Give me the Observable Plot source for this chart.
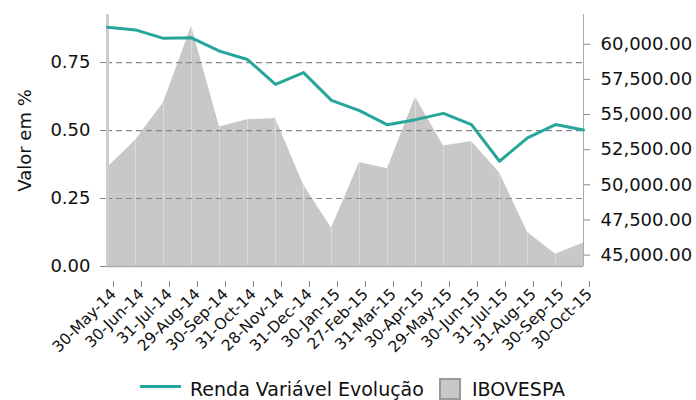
<!DOCTYPE html>
<html><head><meta charset="utf-8">
<script src="https://cdn.jsdelivr.net/npm/d3@7"></script>
<script src="https://cdn.jsdelivr.net/npm/@observablehq/plot@0.6"></script>
<style>
body{margin:0;background:#fff;font-family:"DejaVu Sans",sans-serif;}
#wrap{position:relative;width:696px;height:400px;overflow:hidden;background:#fff;}
#legend{position:absolute;left:140px;top:377.5px;height:22px;display:flex;align-items:center;font-size:19px;line-height:22px;color:#111;white-space:nowrap;}
.sw-line{display:inline-block;width:41px;height:3px;background:#26a69a;margin-right:9px;position:relative;top:-2px;}
.sw-box{display:inline-block;width:18px;height:18px;background:#c8c8c8;border:2px solid #999;margin:0 11px 0 15px;}
</style></head><body>
<div id="wrap"><div id="chart"></div>
<div id="legend"><span class="sw-line"></span><span>Renda Variável Evolução</span><span class="sw-box"></span><span>IBOVESPA</span></div>
</div>
<script>
const dates = ["30-May-14","30-Jun-14","31-Jul-14","29-Aug-14","30-Sep-14","31-Oct-14","28-Nov-14","31-Dec-14","30-Jan-15","27-Feb-15","31-Mar-15","30-Apr-15","29-May-15","30-Jun-15","31-Jul-15","31-Aug-15","30-Sep-15","30-Oct-15"];
const renda = [0.880,0.870,0.839,0.841,0.792,0.761,0.670,0.713,0.611,0.573,0.521,0.540,0.563,0.522,0.387,0.473,0.522,0.502];
const ibovespa = [51239,53168,55829,61288,54116,54629,54724,50007,46908,51583,51150,56229,52760,53081,50865,46626,45059,45868];
const leftTicks = [0, 0.25, 0.5, 0.75];
const rightTicks = [45000, 47500, 50000, 52500, 55000, 57500, 60000];
const leftDomain = [0, 0.9267];
const rightDomain = [44188, 62115];

const toLeft = d3.scaleLinear().domain(rightDomain).range(leftDomain);
const data = dates.map((d, i) => ({date: d, renda: renda[i], ibov: ibovespa[i], ibovL: toLeft(ibovespa[i])}));

const H = 370;
const chart = Plot.plot({
  width: 696, height: H,
  marginTop: 14, marginBottom: H - 266, marginLeft: 106, marginRight: 113,
  style: {fontFamily: "DejaVu Sans", fontSize: "18px", background: "#fff", color: "#111"},
  x: {type: "point", domain: dates, padding: 0},
  y: {domain: leftDomain},
  marks: [
    Plot.areaY(data, {x: "date", y1: 0, y2: "ibovL", fill: "#c8c8c8"}),
    Plot.ruleX(data, {x: "date", y1: 0, y2: "ibovL", stroke: "#fff", strokeOpacity: 0.35}),
    Plot.ruleY(leftTicks.slice(1), {y: d => d, stroke: "#888", strokeDasharray: "6,4", strokeWidth: 1.2}),
    Plot.ruleY([0], {stroke: "#aaa", strokeWidth: 1.5}),
    Plot.ruleX([dates[0]], {y1: 0, y2: leftDomain[1], stroke: "#ccc", strokeWidth: 3}),
    Plot.ruleX([dates[dates.length - 1]], {y1: 0, y2: leftDomain[1], stroke: "#aaa", strokeWidth: 1}),
    Plot.lineY(data, {x: "date", y: "renda", stroke: "#26a69a", strokeWidth: 3}),
    Plot.axisY(leftTicks, {anchor: "left", tickFormat: d3.format(".2f"), tickSize: 6, tickPadding: 10, stroke: "#888", fill: "#111", label: null, fontSize: 18}),
    Plot.axisY(rightTicks.map(v => toLeft(v)), {anchor: "right", tickFormat: v => d3.format(",.2f")(Math.round(toLeft.invert(v))), tickSize: 6, tickPadding: 11, stroke: "#888", fill: "#111", label: null, fontSize: 18}),
    Plot.axisX({tickRotate: -45, tickSize: 6, tickPadding: 4, stroke: "#888", fill: "#111", label: null, fontSize: 15.5, dx: 6, dy: 15}),
    Plot.text(["Valor em %"], {frameAnchor: "left", textAnchor: "middle", dx: -81, rotate: -90, fontSize: 18, fill: "#111"})
  ]
});
document.getElementById("chart").appendChild(chart);
</script>
</body></html>
